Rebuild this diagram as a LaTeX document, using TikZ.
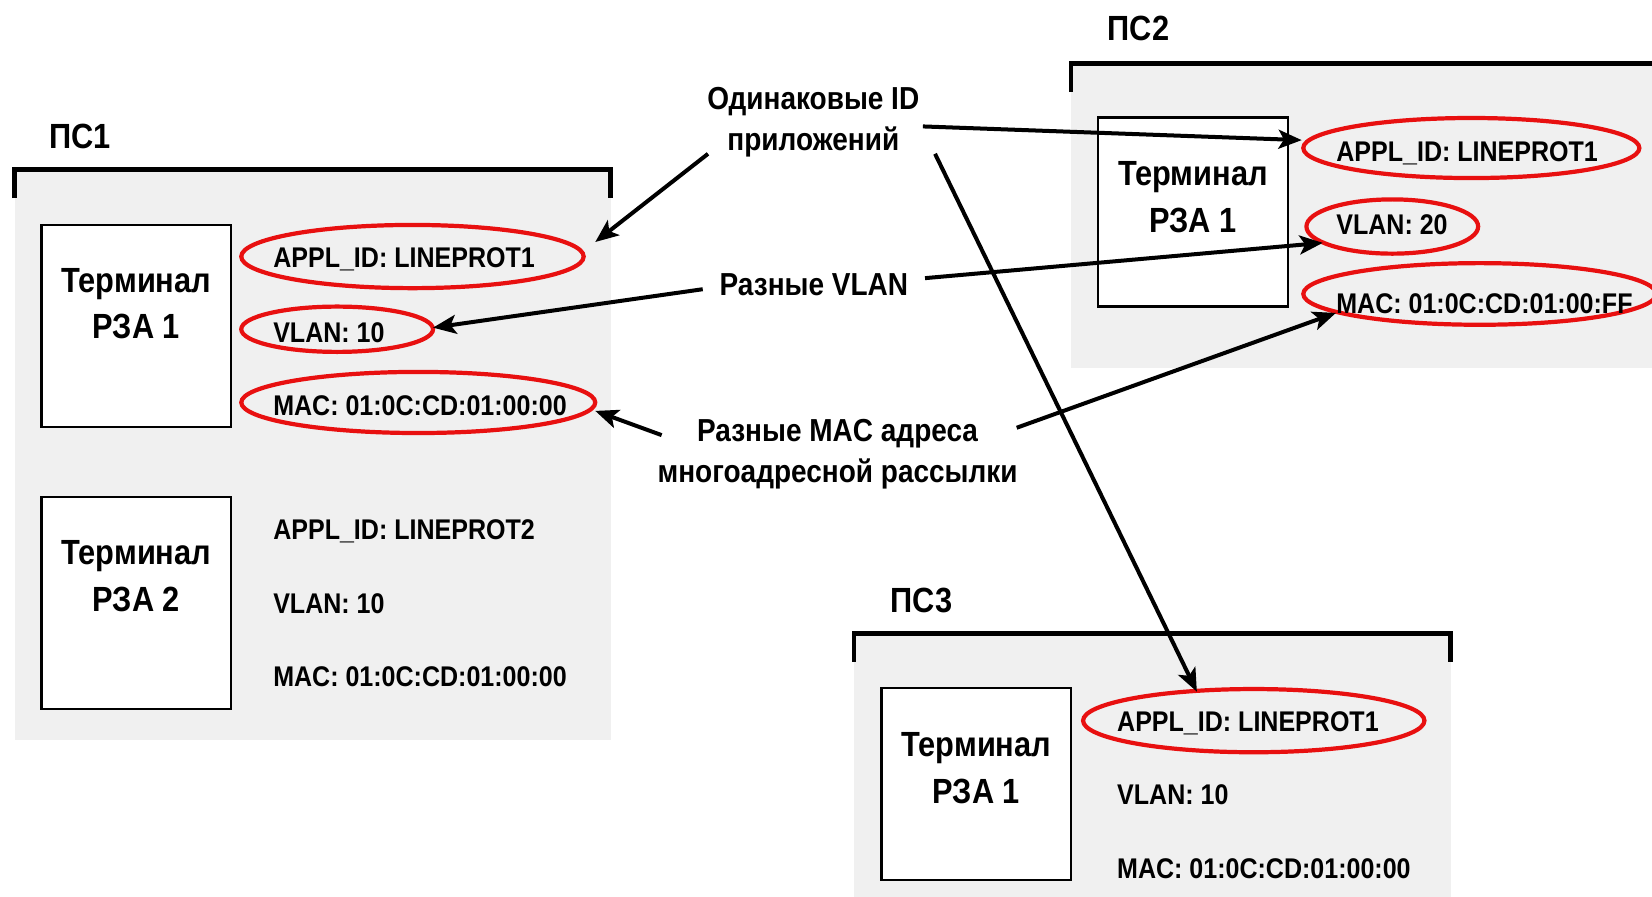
\documentclass[tikz,border=0pt]{standalone}
\usepackage{fontspec}
\setmainfont{Liberation Sans}[FakeStretch=0.88]
\usetikzlibrary{arrows.meta,calc,shapes.geometric}
\definecolor{bg}{RGB}{240,240,240}
\definecolor{ered}{RGB}{232,16,16}
\tikzset{
  zone/.style={fill=bg, draw=none},
  brk/.style={line width=2.3pt, line cap=butt},
  term/.style={rectangle, draw=black, fill=white, line width=1.1pt, inner sep=0pt},
  termtxt/.style={font=\fontsize{16.6}{22}\selectfont\bfseries, align=center, inner sep=0pt},
  zlab/.style={font=\fontsize{16.6}{20}\selectfont\bfseries, anchor=base west, inner sep=0pt},
  param/.style={font=\fontsize{13.5}{16}\selectfont\bfseries, anchor=base west, inner sep=0pt},
  redmark/.style={ellipse, draw=ered, line width=2pt, inner sep=0pt},
  note/.style={font=\fontsize{15.1}{19.6}\selectfont\bfseries, align=center, inner sep=0pt},
  arr/.style={line width=1.9pt, -{Stealth[length=11pt,width=9pt,inset=2.6pt]}}
}
\begin{document}
\begin{tikzpicture}[x=0.5pt, y=-0.5pt]
\useasboundingbox (0,0) rectangle (1568,851);
\clip (0,0) rectangle (1568,851);

% ---------- zones ----------
\fill[zone] (14,161) rectangle (579.5,702);
\draw[brk] (14,188) -- (14,161) -- (579.5,161) -- (579.5,188);
\node[zlab] (ps1) at (46.5,141) {ПС1};

\fill[zone] (1016.6,60) rectangle (1568,349.5);
\draw[brk] (1016.6,87) -- (1016.6,60) -- (1572,60);
\node[zlab] (ps2) at (1051,38) {ПС2};

\fill[zone] (810.5,601) rectangle (1377,851);
\draw[brk] (810.5,628) -- (810.5,601) -- (1377,601) -- (1377,628);
\node[zlab] (ps3) at (845,581) {ПС3};

% ---------- terminals ----------
\node[term, minimum width=90pt, minimum height=95.7pt] (t1) at (129.4,309.3) {};
\node[termtxt] (t1txt) at (129.4,288) {Терминал\\РЗА 1};
\node[term, minimum width=90pt, minimum height=100.5pt] (t2) at (129.4,572.5) {};
\node[termtxt] (t2txt) at (129.4,547) {Терминал\\РЗА 2};
\node[term, minimum width=90.25pt, minimum height=89.8pt] (t3) at (1132.3,201.2) {};
\node[termtxt] (t3txt) at (1132.3,187) {Терминал\\РЗА 1};
\node[term, minimum width=90pt, minimum height=91pt] (t4) at (926.7,744) {};
\node[termtxt] (t4txt) at (926.7,729) {Терминал\\РЗА 1};

% ---------- red marks ----------
\node[redmark, minimum width=162.5pt, minimum height=30pt] (e1a) at (391.5,243.5) {};
\node[redmark, minimum width=91pt, minimum height=21.5pt] (e1b) at (320,312.5) {};
\node[redmark, minimum width=168pt, minimum height=29pt] (e1c) at (397,382) {};
\node[redmark, minimum width=159.5pt, minimum height=28.5pt] (e2a) at (1396.5,140.5) {};
\node[redmark, minimum width=81.5pt, minimum height=25.75pt] (e2b) at (1321.5,215) {};
\node[redmark, minimum width=167.5pt, minimum height=29.25pt] (e2c) at (1404.5,279) {};
\node[redmark, minimum width=162pt, minimum height=30pt] (e3a) at (1190,684) {};

% ---------- parameters ----------
\node[param] (p1a) at (259,254) {APPL\_ID: LINEPROT1};
\node[param] (p1b) at (259,325) {VLAN: 10};
\node[param] (p1c) at (259,394) {MAC: 01:0C:CD:01:00:00};
\node[param] (p1d) at (259,512.5) {APPL\_ID: LINEPROT2};
\node[param] (p1e) at (259,582.5) {VLAN: 10};
\node[param] (p1f) at (259,651.5) {MAC: 01:0C:CD:01:00:00};

\node[param] (p2a) at (1268,153.5) {APPL\_ID: LINEPROT1};
\node[param] (p2b) at (1268,223) {VLAN: 20};
\node[param] (p2c) at (1268,297.5) {MAC: 01:0C:CD:01:00:FF};

\node[param] (p3a) at (1060,694.5) {APPL\_ID: LINEPROT1};
\node[param] (p3b) at (1060,764) {VLAN: 10};
\node[param] (p3c) at (1060,833.5) {MAC: 01:0C:CD:01:00:00};

% ---------- notes ----------
\node[note] (lid) at (772,116) {Одинаковые ID\\приложений};
\node[note, anchor=base] (lvlan) at (772.5,280) {Разные VLAN};
\node[note] (lmac) at (795,431) {Разные MAC адреса\\многоадресной рассылки};

% ---------- arrow start points ----------
\coordinate (s1) at (672,146);
\coordinate (s2) at (876,120);
\coordinate (s3) at (887.5,146);
\coordinate (s4) at (667,274.5);
\coordinate (s5) at (878,264);
\coordinate (s6) at (628,413);
\coordinate (s7) at (965,406);

% ---------- arrows ----------
\draw[arr] (s1) -- ($(e1a)+(173.5,-13.8)$);
\draw[arr] (s2) -- ($(e2a)+(-161,-7.5)$);
\draw[arr] (s3) -- ($(e3a)+(-54,-27.5)$);
\draw[arr] (s4) -- ($(e1b)+(91,-1.5)$);
\draw[arr] (s5) -- ($(e2b)+(-66,15.5)$);
\draw[arr] (s6) -- ($(e1c)+(168,8)$);
\draw[arr] (s7) -- ($(e2c)+(-136.5,18)$);
\end{tikzpicture}
\end{document}
